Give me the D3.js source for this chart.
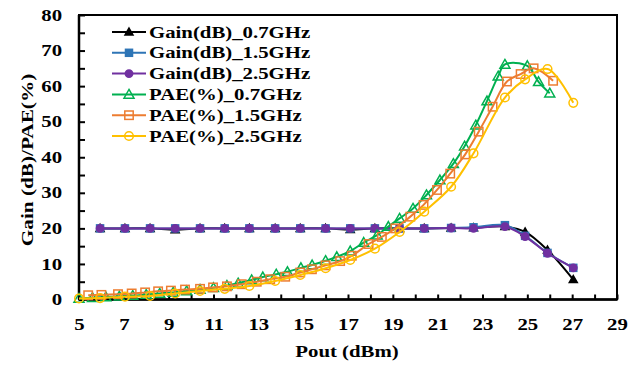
<!doctype html>
<html lang="en">
<head>
<meta charset="utf-8">
<title>gain pae</title>
<script src="https://d3js.org/d3.v7.min.js"></script>
<style>
  body { margin: 0; background: #fff; }
  text { font-family: "Liberation Serif", "Times New Roman", serif; font-weight: bold; fill: #000; }
  .domain { display: none; }
</style>
</head>
<body>
<div id="chart"></div>
<script>
// Gain data (dB), same Pout grid for the three bands
var gainX   = [5.94, 7.05, 8.17, 9.29, 10.4, 11.5, 12.6, 13.75, 14.87, 16.0, 17.1, 18.2, 19.3, 20.4, 21.6, 22.6, 24.0, 24.9, 25.9, 27.05];
var gain07  = [20, 20, 20, 19.6, 20, 20, 20, 20, 20, 20, 19.7, 20, 20, 20, 20.1, 20.2, 20.5, 19.0, 13.9, 5.6];
var gain15  = [20, 20, 20, 20, 20, 20, 20, 20, 20, 20, 20, 20, 20, 20, 20.1, 20.3, 20.9, 17.9, 13.1, 8.9];
var gain25  = [20, 20, 20, 20, 20, 20, 20, 20, 20, 20, 20, 20, 20, 20, 20.1, 20.0, 20.5, 17.7, 13.0, 8.9];

// PAE data (%)
var pae07X = [5.0, 5.6, 6.2, 6.8, 7.4, 8.0, 8.6, 9.2, 9.8, 10.4, 11.0, 11.6, 12.1, 12.7, 13.2, 13.8, 14.3, 14.9, 15.4, 16.0, 16.5, 17.1, 17.7, 18.3, 18.8, 19.3, 19.9, 20.5, 21.1, 21.7, 22.2, 22.7, 23.2, 23.7, 24.0, 25.0, 25.5, 26.0];
var pae07  = [0.3, 0.5, 0.7, 0.9, 1.1, 1.4, 1.7, 2.0, 2.4, 2.8, 3.3, 3.9, 4.6, 5.5, 6.3, 7.1, 7.8, 8.9, 9.7, 10.9, 12.0, 13.6, 16.0, 18.1, 20.5, 22.8, 25.6, 29.4, 33.6, 38.2, 43.1, 49.0, 55.8, 62.8, 66.1, 65.7, 61.2, 58.0];
var pae15X = [5.41, 6.0, 6.74, 7.35, 7.95, 8.53, 9.1, 9.73, 10.4, 10.98, 11.6, 12.26, 12.93, 13.53, 14.2, 14.87, 15.39, 16.0, 16.65, 17.17, 17.92, 18.51, 19.11, 19.78, 20.37, 20.97, 21.56, 22.23, 22.83, 23.45, 24.09, 24.7, 25.28, 26.15];
var pae15  = [1.2, 1.3, 1.5, 1.7, 2.0, 2.3, 2.5, 2.8, 3.0, 3.4, 3.7, 4.3, 5.0, 5.7, 6.4, 7.6, 8.5, 9.6, 10.8, 12.3, 15.6, 17.6, 20.0, 23.3, 26.6, 30.8, 35.4, 40.8, 47.2, 54.2, 61.3, 63.4, 65.0, 61.5];
var pae25X = [5.0, 5.94, 7.05, 8.17, 9.29, 10.4, 11.5, 12.6, 13.75, 14.87, 16.0, 17.1, 18.2, 19.3, 20.4, 21.6, 22.6, 24.0, 24.9, 25.9, 27.05];
var pae25  = [0.3, 0.4, 0.8, 1.0, 1.7, 2.4, 3.0, 3.8, 5.2, 6.9, 8.8, 11.1, 14.3, 19.0, 24.7, 31.7, 41.1, 56.8, 61.9, 64.8, 55.3];

var names   = ["Gain(dB)_0.7GHz", "Gain(dB)_1.5GHz", "Gain(dB)_2.5GHz", "PAE(%)_0.7GHz", "PAE(%)_1.5GHz", "PAE(%)_2.5GHz"];
var xTicks  = d3.range(5, 30, 1);
var yTicks  = d3.range(0, 81, 5);

var series = [
  {name: names[0], xs: gainX,  ys: gain07, color: "#000000", shape: "tri",    filled: true},
  {name: names[1], xs: gainX,  ys: gain15, color: "#2E75B6", shape: "square", filled: true},
  {name: names[2], xs: gainX,  ys: gain25, color: "#7030A0", shape: "circle", filled: true},
  {name: names[3], xs: pae07X, ys: pae07,  color: "#00B050", shape: "tri",    filled: false},
  {name: names[4], xs: pae15X, ys: pae15,  color: "#ED7D31", shape: "square", filled: false},
  {name: names[5], xs: pae25X, ys: pae25,  color: "#FFC000", shape: "circle", filled: false}
];

var W = 629, H = 365, SX = 1.3;
var svg = d3.select("#chart").append("svg").attr("width", W).attr("height", H);

var x = d3.scaleLinear().domain([5, 29]).range([79, 617]);
var y = d3.scaleLinear().domain([0, 80]).range([299.5, 15]);

// plot frame
svg.append("rect").attr("x", 79).attr("y", 15).attr("width", 538).attr("height", 284.5)
  .attr("fill", "none").attr("stroke", "#000").attr("stroke-width", 2);

// x axis
var gx = svg.append("g").attr("transform", "translate(0,299.5)")
  .call(d3.axisBottom(x).tickValues(xTicks).tickSize(-5).tickPadding(19.5)
    .tickFormat(function(d){ return d % 2 ? d : ""; }));
gx.selectAll("line").attr("stroke", "#000").attr("stroke-width", 2);
gx.selectAll("text").attr("font-size", 16).attr("font-family", null)
  .attr("transform", "scale(" + SX + ",1)");

// y axis
var gy = svg.append("g").attr("transform", "translate(79,0)")
  .call(d3.axisLeft(y).tickValues(yTicks).tickSize(-6).tickPadding(13)
    .tickFormat(function(d){ return d % 10 ? "" : d; }));
gy.selectAll("line").attr("stroke", "#000").attr("stroke-width", 2);
gy.selectAll("text").attr("font-size", 16).attr("font-family", null)
  .attr("transform", "scale(" + SX + ",1)");

// axis lines (thicker)
svg.append("line").attr("x1", 79).attr("x2", 617).attr("y1", 299.5).attr("y2", 299.5).attr("stroke", "#000").attr("stroke-width", 2.5);
svg.append("line").attr("x1", 79).attr("x2", 79).attr("y1", 15).attr("y2", 299.5).attr("stroke", "#000").attr("stroke-width", 2.5);

// axis titles
svg.append("text").attr("transform", "translate(347,357) scale(" + SX + ",1)")
  .attr("text-anchor", "middle").attr("font-size", 16).text("Pout (dBm)");
svg.append("text").attr("transform", "translate(33,160) rotate(-90) scale(1.25,1)")
  .attr("text-anchor", "middle").attr("font-size", 17).text("Gain (dB)/PAE(%)");

function drawMarker(g, s, cx, cy) {
  var fill = s.filled ? s.color : "#fff";
  if (s.shape === "tri") {
    var r = s.filled ? 4 : 5;
    g.append("path").attr("d", "M" + cx + "," + (cy - r) + "L" + (cx + r) + "," + (cy + r * 0.75) + "L" + (cx - r) + "," + (cy + r * 0.75) + "Z")
      .attr("fill", s.filled ? fill : "none").attr("stroke", s.color).attr("stroke-width", 1.5);
  } else if (s.shape === "square") {
    var h = s.filled ? 3.5 : 4.2;
    g.append("rect").attr("x", cx - h).attr("y", cy - h).attr("width", 2 * h).attr("height", 2 * h)
      .attr("fill", s.filled ? fill : "none").attr("stroke", s.color).attr("stroke-width", 1.5);
  } else {
    g.append("circle").attr("cx", cx).attr("cy", cy).attr("r", s.filled ? 3.7 : 4.3)
      .attr("fill", s.filled ? fill : "none").attr("stroke", s.color).attr("stroke-width", 1.5);
  }
}

var line = d3.line().x(function(d){ return x(d[0]); }).y(function(d){ return y(d[1]); })
  .curve(d3.curveCatmullRom.alpha(0.5));

series.forEach(function(s) {
  var pts = s.xs.map(function(v, i){ return [v, s.ys[i]]; });
  var g = svg.append("g");
  g.append("path").attr("d", line(pts)).attr("fill", "none").attr("stroke", s.color).attr("stroke-width", 2);
  pts.forEach(function(p){ drawMarker(g, s, x(p[0]), y(p[1])); });
});

// legend
series.forEach(function(s, i) {
  var ly = 32 + i * 20.8;
  var g = svg.append("g");
  g.append("line").attr("x1", 112).attr("x2", 146).attr("y1", ly).attr("y2", ly).attr("stroke", s.color).attr("stroke-width", 2);
  drawMarker(g, s, 129, ly);
  g.append("text").attr("transform", "translate(149," + (ly + 5.5) + ") scale(" + SX + ",1)")
    .attr("font-size", 16).text(s.name);
});
</script>
</body>
</html>
